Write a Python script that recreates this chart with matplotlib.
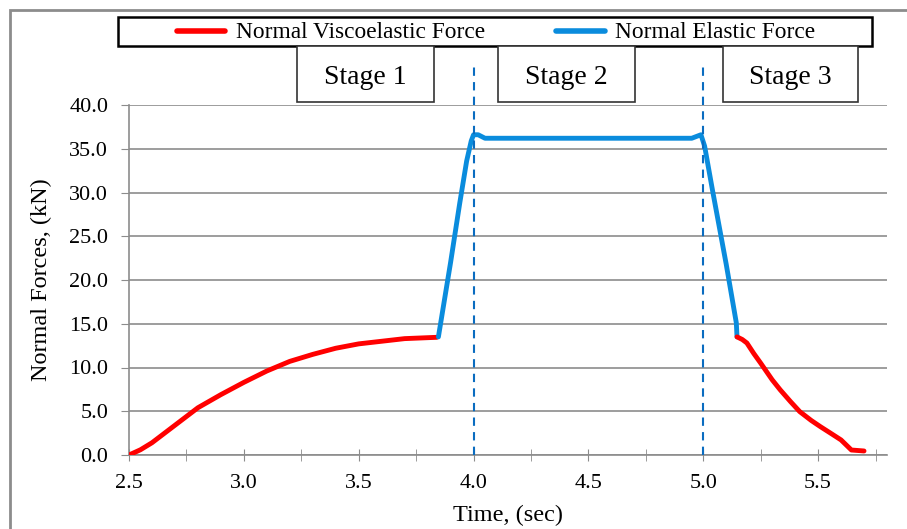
import matplotlib
matplotlib.use("Agg")
import matplotlib.pyplot as plt
from matplotlib.patches import Rectangle
from matplotlib.lines import Line2D

# --- data ---
visco1_t = [2.50, 2.55, 2.60, 2.65, 2.70, 2.75, 2.80, 2.90, 3.00, 3.10, 3.20, 3.30, 3.40, 3.50, 3.60, 3.70, 3.84]
visco1_f = [0.0, 0.6, 1.4, 2.4, 3.4, 4.4, 5.4, 6.9, 8.3, 9.6, 10.7, 11.5, 12.2, 12.7, 13.0, 13.3, 13.45]

elastic_t = [3.847, 3.90, 3.94, 3.97, 3.99, 4.00, 4.02, 4.05, 4.95, 4.98, 4.99, 5.006, 5.04, 5.10, 5.144, 5.147]
elastic_f = [13.5, 22.0, 28.8, 33.6, 35.9, 36.6, 36.6, 36.2, 36.2, 36.5, 36.6, 35.3, 30.3, 21.8, 15.1, 13.5]

visco3_t = [5.147, 5.17, 5.19, 5.22, 5.25, 5.30, 5.335, 5.38, 5.42, 5.47, 5.51, 5.56, 5.60, 5.645, 5.70]
visco3_f = [13.5, 13.2, 12.8, 11.6, 10.5, 8.6, 7.45, 6.1, 4.96, 3.95, 3.24, 2.4, 1.72, 0.57, 0.46]

stage_lines = [4.0, 5.0]
stage_labels = ["Stage 1", "Stage 2", "Stage 3"]
y_ticks = [0, 5, 10, 15, 20, 25, 30, 35, 40]
x_ticks = [2.5, 3.0, 3.5, 4.0, 4.5, 5.0, 5.5]

RED = "#FF0000"
BLUE = "#0A8CDD"
DASH = "#0A6CC0"
GRID = "#8C8C8C"

plt.rcParams["font.family"] = ["Liberation Serif", "DejaVu Serif"]

W, H = 907, 529
fig = plt.figure(figsize=(W / 100, H / 100), dpi=100)
fx = lambda px: px / W
fy = lambda py: 1 - py / H

# outer gray frame (runs off the right/bottom edge)
fig.patches.append(Rectangle((fx(10), fy(600)), fx(1000), fy(10) - fy(600),
                             transform=fig.transFigure, fill=False, ec="#8C8C8C", lw=2))

ax = fig.add_axes([fx(129), fy(455), fx(887) - fx(129), fy(105) - fy(455)])
ax.set_xlim(2.5, 5.8)
ax.set_ylim(0, 40)

ax.plot(visco1_t, visco1_f, color=RED, lw=3.5, solid_capstyle="round", solid_joinstyle="round", zorder=3)
ax.plot(elastic_t, elastic_f, color=BLUE, lw=3.5, solid_capstyle="round", solid_joinstyle="round", zorder=3)
ax.plot(visco3_t, visco3_f, color=RED, lw=3.5, solid_capstyle="round", solid_joinstyle="round", zorder=3)

for xv in stage_lines:
    ax.plot([xv, xv], [0, 44.3], color=DASH, lw=1.5, ls=(0, (4, 3)), clip_on=False, zorder=4)

ax.set_yticks(y_ticks)
ax.set_yticklabels([f"{v:.1f}" for v in y_ticks])
ax.set_xticks(x_ticks)
ax.set_xticklabels([f"{v:.1f}" for v in x_ticks])
ax.set_xticks([2.75, 3.25, 3.75, 4.25, 4.75, 5.25, 5.75], minor=True)
ax.grid(axis="y", color=GRID, lw=1.2)
ax.set_axisbelow(True)
for s in ["top", "right"]:
    ax.spines[s].set_visible(False)
for s in ["left", "bottom"]:
    ax.spines[s].set_color(GRID)
    ax.spines[s].set_linewidth(1.2)
ax.tick_params(axis="y", which="both", direction="out", length=6, color=GRID, labelsize=16, pad=9)
ax.tick_params(axis="x", which="both", direction="inout", length=8, color=GRID, labelsize=16, pad=10)
ax.set_xlabel("Time, (sec)", fontsize=17.5, labelpad=8)
ax.set_ylabel("Normal Forces, (kN)", fontsize=17.5, labelpad=12)

# legend box
fig.patches.append(Rectangle((fx(118), fy(46)), fx(872) - fx(118), fy(17) - fy(46),
                             transform=fig.transFigure, fill=True, fc="white", ec="black", lw=1.8))
fig.lines.append(Line2D([fx(177), fx(225)], [fy(31), fy(31)], transform=fig.transFigure,
                        color=RED, lw=4, solid_capstyle="round"))
fig.text(fx(236), fy(33), "Normal Viscoelastic Force", fontsize=16.8, va="center", ha="left")
fig.lines.append(Line2D([fx(556), fx(605)], [fy(31), fy(31)], transform=fig.transFigure,
                        color=BLUE, lw=4, solid_capstyle="round"))
fig.text(fx(615), fy(33), "Normal Elastic Force", fontsize=16.8, va="center", ha="left")

# stage boxes
stage_boxes = [(297, 434), (498, 635), (723, 858)]
for (x0, x1), lab in zip(stage_boxes, stage_labels):
    fig.patches.append(Rectangle((fx(x0), fy(102)), fx(x1) - fx(x0), fy(46) - fy(102),
                                 transform=fig.transFigure, fill=True, fc="white", ec="#333333", lw=1.2))
    fig.text((fx(x0) + fx(x1)) / 2, fy(78), lab, fontsize=20, ha="center", va="center")

fig.savefig("out.png", dpi=100)
